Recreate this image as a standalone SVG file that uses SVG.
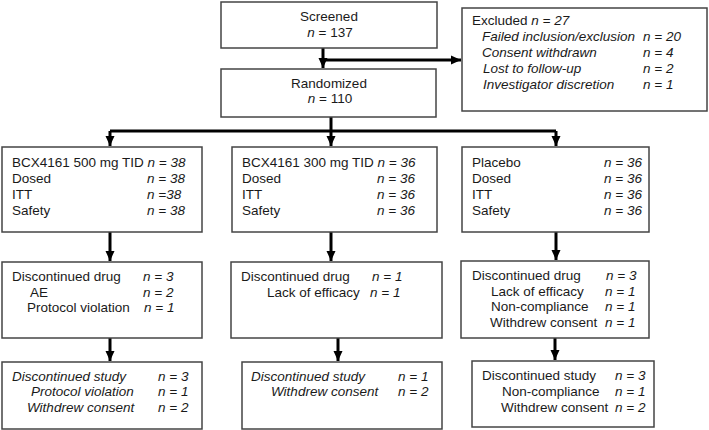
<svg xmlns="http://www.w3.org/2000/svg" width="709" height="430" viewBox="0 0 709 430">
<style>
text{font-family:"Liberation Sans",Arial,sans-serif;font-size:13.5px;fill:#1a1a1a}
.i{font-style:italic}
.box{fill:#fff;stroke:#444;stroke-width:1.5}
.con{stroke:#000;stroke-width:3;fill:none}
.mid{text-anchor:middle}
</style>
<defs>
<marker id="ah" markerUnits="userSpaceOnUse" markerWidth="10" markerHeight="10" viewBox="0 0 10 10" refX="10" refY="5" orient="auto">
<path d="M0,0.5 L10,5 L0,9.5 Z" fill="#000"/>
</marker>
</defs>
<rect width="709" height="430" fill="#fff"/>
<g id="connectors">
<path class="con" d="M323,48 V68" marker-end="url(#ah)"/>
<path class="con" d="M323,60 H461" marker-end="url(#ah)"/>
<path class="con" d="M331,117 V131"/>
<path class="con" d="M110,131 H556"/>
<path class="con" d="M110,131 V146" marker-end="url(#ah)"/>
<path class="con" d="M331,131 V146" marker-end="url(#ah)"/>
<path class="con" d="M556,131 V146" marker-end="url(#ah)"/>
<path class="con" d="M110,232 V261" marker-end="url(#ah)"/>
<path class="con" d="M331,232 V261" marker-end="url(#ah)"/>
<path class="con" d="M556,232 V260" marker-end="url(#ah)"/>
<path class="con" d="M110,338 V361" marker-end="url(#ah)"/>
<path class="con" d="M338,338 V361" marker-end="url(#ah)"/>
<path class="con" d="M555,338 V360" marker-end="url(#ah)"/>
</g>
<g id="screened">
<rect class="box" x="221" y="2" width="216" height="46"/>
<text class="mid" x="329" y="21">Screened</text>
<text class="mid" x="330" y="37"><tspan class="i">n</tspan> = 137</text>
</g>
<g id="randomized">
<rect class="box" x="221" y="69" width="215" height="48"/>
<text class="mid" x="329" y="88">Randomized</text>
<text class="mid" x="330" y="103"><tspan class="i">n</tspan> = 110</text>
</g>
<g id="excluded">
<rect class="box" x="462" y="8" width="245" height="103"/>
<text x="472" y="25">Excluded <tspan class="i">n = 27</tspan></text>
<text class="i" x="482" y="41">Failed inclusion/exclusion</text>
<text class="i" x="643" y="41">n = 20</text>
<text class="i" x="482" y="57">Consent withdrawn</text>
<text class="i" x="643" y="57">n = 4</text>
<text class="i" x="483" y="73">Lost to follow-up</text>
<text class="i" x="643" y="73">n = 2</text>
<text class="i" x="483" y="89">Investigator discretion</text>
<text class="i" x="643" y="89">n = 1</text>
</g>
<g id="arm500">
<rect class="box" x="2" y="147" width="200" height="85"/>
<text x="12" y="167">BCX4161 500 mg TID <tspan class="i">n = 38</tspan></text>
<text x="12" y="183">Dosed</text><text class="i" x="147" y="183">n = 38</text>
<text x="12" y="199">ITT</text><text class="i" x="147" y="199">n =38</text>
<text x="12" y="215">Safety</text><text class="i" x="147" y="215">n = 38</text>
</g>
<g id="arm300">
<rect class="box" x="232" y="147" width="205" height="85"/>
<text x="242" y="167">BCX4161 300 mg TID <tspan class="i">n = 36</tspan></text>
<text x="242" y="183">Dosed</text><text class="i" x="377" y="183">n = 36</text>
<text x="242" y="199">ITT</text><text class="i" x="377" y="199">n = 36</text>
<text x="242" y="215">Safety</text><text class="i" x="377" y="215">n = 36</text>
</g>
<g id="placebo">
<rect class="box" x="462" y="147" width="187" height="85"/>
<text x="472" y="167">Placebo</text><text class="i" x="604" y="167">n = 36</text>
<text x="472" y="183">Dosed</text><text class="i" x="604" y="183">n = 36</text>
<text x="472" y="199">ITT</text><text class="i" x="604" y="199">n = 36</text>
<text x="472" y="215">Safety</text><text class="i" x="604" y="215">n = 36</text>
</g>
<g id="drug500">
<rect class="box" x="2" y="262" width="200" height="76"/>
<text x="12" y="281">Discontinued drug</text><text class="i" x="143" y="281">n = 3</text>
<text x="30" y="297">AE</text><text class="i" x="143" y="297">n = 2</text>
<text x="27" y="312">Protocol violation</text><text class="i" x="144" y="312">n = 1</text>
</g>
<g id="drug300">
<rect class="box" x="231" y="262" width="211" height="76"/>
<text x="241" y="281">Discontinued drug</text><text class="i" x="372" y="281">n = 1</text>
<text x="267" y="297">Lack of efficacy</text><text class="i" x="370" y="297">n = 1</text>
</g>
<g id="drugplacebo">
<rect class="box" x="461" y="261" width="188" height="77"/>
<text x="472" y="280">Discontinued drug</text><text class="i" x="606" y="280">n = 3</text>
<text x="491" y="296">Lack of efficacy</text><text class="i" x="605" y="296">n = 1</text>
<text x="491" y="311">Non-compliance</text><text class="i" x="605" y="311">n = 1</text>
<text x="490" y="327">Withdrew consent</text><text class="i" x="605" y="327">n = 1</text>
</g>
<g id="study500">
<rect class="box" x="2" y="362" width="200" height="67"/>
<text class="i" x="12" y="381">Discontinued study</text><text class="i" x="158" y="381">n = 3</text>
<text class="i" x="31" y="396">Protocol violation</text><text class="i" x="158" y="396">n = 1</text>
<text class="i" x="27" y="412">Withdrew consent</text><text class="i" x="158" y="412">n = 2</text>
</g>
<g id="study300">
<rect class="box" x="242" y="362" width="200" height="67"/>
<text class="i" x="251" y="381">Discontinued study</text><text class="i" x="398" y="381">n = 1</text>
<text class="i" x="271" y="396">Withdrew consent</text><text class="i" x="398" y="396">n = 2</text>
</g>
<g id="studyplacebo">
<rect class="box" x="472" y="361" width="182" height="66"/>
<text x="482" y="380">Discontinued study</text><text class="i" x="615" y="380">n = 3</text>
<text x="502" y="396">Non-compliance</text><text class="i" x="615" y="396">n = 1</text>
<text x="501" y="412">Withdrew consent</text><text class="i" x="615" y="412">n = 2</text>
</g>
</svg>
